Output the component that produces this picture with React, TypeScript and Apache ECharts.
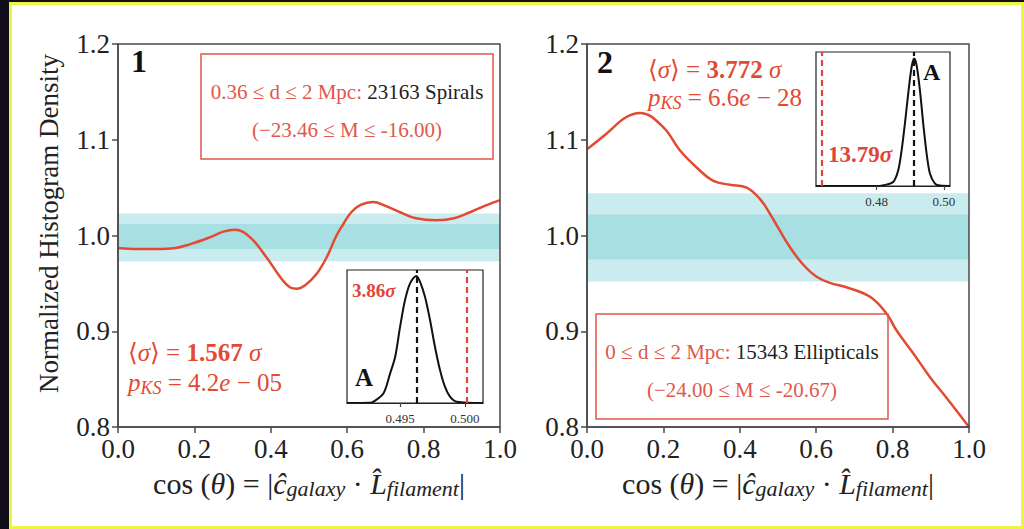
import React, { useEffect, useRef } from 'react';
import * as echarts from 'echarts';

// ---------- data ----------
const xTicks = [0, 0.2, 0.4, 0.6, 0.8, 1.0];
const yTicks = [0.8, 0.9, 1.0, 1.1, 1.2];

// panel 1 (spirals) curve
const p1X = [0, 0.05, 0.10, 0.15, 0.19, 0.24, 0.276, 0.306, 0.346, 0.389, 0.424, 0.450, 0.468, 0.49, 0.52, 0.546, 0.572, 0.59, 0.61, 0.635, 0.668, 0.70, 0.74, 0.78, 0.834, 0.88, 0.92, 0.96, 1.00];
const p1Y = [0.987, 0.986, 0.986, 0.987, 0.991, 0.998, 1.004, 1.006, 0.998, 0.977, 0.957, 0.946, 0.9445, 0.948, 0.960, 0.977, 1.000, 1.012, 1.024, 1.032, 1.035, 1.031, 1.024, 1.018, 1.016, 1.018, 1.024, 1.031, 1.037];
// panel 2 (ellipticals) curve
const p2X = [0, 0.05, 0.10, 0.139, 0.2, 0.243, 0.287, 0.331, 0.374, 0.418, 0.453, 0.479, 0.505, 0.531, 0.565, 0.601, 0.64, 0.679, 0.741, 0.785, 0.81, 0.854, 0.898, 0.942, 1.0];
const p2Y = [1.090, 1.106, 1.123, 1.128, 1.113, 1.089, 1.071, 1.057, 1.053, 1.050, 1.038, 1.0226, 1.005, 0.988, 0.970, 0.957, 0.950, 0.946, 0.936, 0.918, 0.901, 0.877, 0.852, 0.830, 0.800];

// random-alignment bands [low, high]
const p1Outer = [0.973, 1.023];
const p1Inner = [0.986, 1.012];
const p2Outer = [0.952, 1.044];
const p2Inner = [0.975, 1.022];

// inset A of panel 1
const in1Range = [0.4909, 0.5014];
const in1Ticks = [0.495, 0.5];
const in1X = [0.4909, 0.4927, 0.49295, 0.49372, 0.49423, 0.49462, 0.495, 0.49538, 0.49577, 0.49625, 0.49654, 0.49692, 0.49731, 0.49769, 0.49808, 0.49846, 0.49885, 0.49936, 0.5014];
const in1Y = [0, 0.002, 0.01, 0.073, 0.223, 0.348, 0.574, 0.774, 0.900, 0.955, 0.911, 0.798, 0.624, 0.423, 0.248, 0.123, 0.048, 0.01, 0];
const in1Mean = 0.49625;
const in1Obs = 0.50015;

// inset A of panel 2
const in2Range = [0.462, 0.5018];
const in2Ticks = [0.48, 0.5];
const in2X = [0.462, 0.481, 0.48196, 0.48493, 0.48642, 0.48743, 0.48841, 0.48939, 0.4904, 0.49117, 0.49189, 0.49287, 0.49385, 0.49486, 0.49584, 0.49733, 0.49881, 0.5018];
const in2Y = [0, 0, 0.005, 0.03, 0.117, 0.266, 0.466, 0.690, 0.888, 0.951, 0.900, 0.714, 0.466, 0.242, 0.093, 0.018, 0.003, 0];
const in2Mean = 0.49117;
const in2Obs = 0.46383;

// ---------- styles ----------
const FONT = '"Liberation Serif", "DejaVu Serif", serif';
const RED = '#e24a33';
const BOXRED = '#e2574c';
const AXC = '#4a4a4a';
const LIGHT = '#cbecef';
const DARK = '#a8dfe3';

const zip = (xs: number[], ys: number[]) => xs.map((x, i) => [x, ys[i]]);

const xName = '{n|cos (}{i|θ}{n|) = |}{i|ĉ}{s|galaxy}{n| · }{i|L̂}{s|filament}{n||}';
const xNameRich = {
  n: { fontFamily: FONT, fontSize: 30, color: '#222', lineHeight: 32 },
  i: { fontFamily: FONT, fontSize: 30, fontStyle: 'italic', color: '#222', lineHeight: 32 },
  s: { fontFamily: FONT, fontSize: 22, fontStyle: 'italic', color: '#222', lineHeight: 18, verticalAlign: 'bottom' },
};

function mainX(grid: number) {
  return {
    gridIndex: grid, type: 'value', min: 0, max: 1, interval: 0.2, z: 5,
    axisLine: { show: true, onZero: false, lineStyle: { color: AXC, width: 1.5 } },
    axisTick: { show: true, inside: false, length: 6, lineStyle: { color: AXC, width: 1.5 }, customValues: xTicks },
    axisLabel: { fontFamily: FONT, fontSize: 27, color: '#222', margin: 8, customValues: xTicks, formatter: (v: number) => v.toFixed(1) },
    splitLine: { show: false },
    name: xName, nameLocation: 'middle', nameGap: 40,
    nameTextStyle: { rich: xNameRich },
  };
}
function mainY(grid: number, withName: boolean) {
  return {
    gridIndex: grid, type: 'value', min: 0.8, max: 1.2, interval: 0.1, z: 5,
    axisLine: { show: true, onZero: false, lineStyle: { color: AXC, width: 1.5 } },
    axisTick: { show: true, inside: false, length: 6, lineStyle: { color: AXC, width: 1.5 }, customValues: yTicks },
    axisLabel: { fontFamily: FONT, fontSize: 27, color: '#222', margin: 8, customValues: yTicks, formatter: (v: number) => v.toFixed(1) },
    splitLine: { show: false },
    name: withName ? 'Normalized Histogram Density' : '',
    nameLocation: 'middle', nameGap: 56,
    nameTextStyle: { fontFamily: FONT, fontSize: 27, color: '#222', padding: [0, 0, 0, 24] },
  };
}
function insetX(grid: number, range: number[], ticks: number[], digits: number) {
  return {
    gridIndex: grid, type: 'value', min: range[0], max: range[1], z: 10,
    axisLine: { show: true, onZero: false, lineStyle: { color: '#222', width: 1.2 } },
    axisTick: { show: true, inside: false, length: 4, customValues: ticks, lineStyle: { color: '#444', width: 1.2 } },
    axisLabel: { fontFamily: FONT, fontSize: 13, color: '#333', margin: 9, customValues: ticks, formatter: (v: number) => v.toFixed(digits) },
    splitLine: { show: false },
  };
}
function insetY(grid: number) {
  return { gridIndex: grid, type: 'value', min: 0, max: 1, show: false };
}
function bandSeries(xi: number, outer: number[], inner: number[]) {
  return {
    type: 'line', xAxisIndex: xi, yAxisIndex: xi, data: [], z: 1, silent: true,
    markArea: {
      silent: true,
      data: [
        [{ yAxis: outer[0], itemStyle: { color: LIGHT } }, { yAxis: outer[1] }],
        [{ yAxis: inner[0], itemStyle: { color: DARK } }, { yAxis: inner[1] }],
      ],
    },
  };
}
function insetSeries(xi: number, xs: number[], ys: number[], mean: number, obs: number) {
  return {
    type: 'line', xAxisIndex: xi, yAxisIndex: xi, data: zip(xs, ys), z: 6,
    smooth: 0.3, showSymbol: false, clip: true,
    lineStyle: { color: '#111', width: 2 },
    markLine: {
      silent: true, symbol: ['none', 'none'], label: { show: false }, z: 7, precision: 6,
      data: [
        { xAxis: mean, lineStyle: { color: '#111', type: [6, 4], width: 2.2 } },
        { xAxis: obs, lineStyle: { color: '#e0453a', type: [6, 4], width: 2.2 } },
      ],
    },
  };
}

const statRich = (size: number) => ({
  n: { fontFamily: FONT, fontSize: size, fill: RED, lineHeight: size + 4 },
  i: { fontFamily: FONT, fontSize: size, fontStyle: 'italic', fill: RED, lineHeight: size + 4 },
  b: { fontFamily: FONT, fontSize: size, fontWeight: 'bold', fill: RED, lineHeight: size + 4 },
  s: { fontFamily: FONT, fontSize: Math.round(size * 0.7), fontStyle: 'italic', fill: RED, lineHeight: Math.round(size * 0.7), verticalAlign: 'bottom' },
});
const boxRich = {
  r: { fontFamily: FONT, fontSize: 21, fill: BOXRED },
  k: { fontFamily: FONT, fontSize: 21, fill: '#222' },
};
const sigRich = (size: number) => ({
  b: { fontFamily: FONT, fontSize: size, fontWeight: 'bold', fill: '#e0453a' },
  i: { fontFamily: FONT, fontSize: size, fontWeight: 'bold', fontStyle: 'italic', fill: '#e0453a' },
});

function text(x: number, y: number, t: string, extra: any) {
  return {
    type: 'text', x, y, z: 100, silent: true,
    style: { text: t, fontFamily: FONT, align: 'left', verticalAlign: 'middle', ...extra },
  };
}

export default function App() {
  const ref = useRef<HTMLDivElement>(null);
  useEffect(() => {
    const chart = echarts.init(ref.current!, null, { renderer: 'svg' });
    const option: any = {
      animation: false,
      grid: [
        { left: 118, top: 44, width: 382, height: 383, outerBoundsMode: 'none', containLabel: false },
        { left: 587, top: 44, width: 382, height: 383, outerBoundsMode: 'none', containLabel: false },
        { left: 347, top: 270, width: 136, height: 133, show: true, borderColor: '#222', borderWidth: 1.2, backgroundColor: '#fff', outerBoundsMode: 'none', containLabel: false },
        { left: 816, top: 52, width: 134, height: 134, show: true, borderColor: '#222', borderWidth: 1.2, backgroundColor: '#fff', outerBoundsMode: 'none', containLabel: false },
      ],
      xAxis: [mainX(0), mainX(1), insetX(2, in1Range, in1Ticks, 3), insetX(3, in2Range, in2Ticks, 2)],
      yAxis: [mainY(0, true), mainY(1, false), insetY(2), insetY(3)],
      series: [
        bandSeries(0, p1Outer, p1Inner),
        bandSeries(1, p2Outer, p2Inner),
        {
          type: 'line', xAxisIndex: 0, yAxisIndex: 0, data: zip(p1X, p1Y), z: 3,
          smooth: 0.4, showSymbol: false, clip: true, lineStyle: { color: RED, width: 2.5 },
        },
        {
          type: 'line', xAxisIndex: 1, yAxisIndex: 1, data: zip(p2X, p2Y), z: 3,
          smooth: 0.4, showSymbol: false, clip: true, lineStyle: { color: RED, width: 2.5 },
        },
        insetSeries(2, in1X, in1Y, in1Mean, in1Obs),
        insetSeries(3, in2X, in2Y, in2Mean, in2Obs),
      ],
      graphic: [
        { type: 'rect', z: 50, silent: true, shape: { x: 118, y: 44, width: 382, height: 383 }, style: { fill: 'none', stroke: AXC, lineWidth: 1.5 } },
        { type: 'rect', z: 50, silent: true, shape: { x: 587, y: 44, width: 382, height: 383 }, style: { fill: 'none', stroke: AXC, lineWidth: 1.5 } },
        { type: 'rect', z: 60, silent: true, shape: { x: 201, y: 54, width: 292, height: 105 }, style: { fill: 'none', stroke: BOXRED, lineWidth: 1.5 } },
        { type: 'rect', z: 60, silent: true, shape: { x: 596, y: 314, width: 292, height: 105 }, style: { fill: 'none', stroke: BOXRED, lineWidth: 1.5 } },
        text(347, 92, '{r|0.36 ≤ d ≤ 2 Mpc: }{k|23163 Spirals}', { align: 'center', rich: boxRich }),
        text(347, 130, '{r|(−23.46 ≤ M ≤ -16.00)}', { align: 'center', rich: boxRich }),
        text(742, 352, '{r|0 ≤ d ≤ 2 Mpc: }{k|15343 Ellipticals}', { align: 'center', rich: boxRich }),
        text(742, 390, '{r|(−24.00 ≤ M ≤ -20.67)}', { align: 'center', rich: boxRich }),
        text(131, 61, '1', { fontSize: 32, fontWeight: 'bold', fill: '#111' }),
        text(597, 62, '2', { fontSize: 32, fontWeight: 'bold', fill: '#111' }),
        text(128, 352, '{n|⟨}{i|σ}{n|⟩ = }{b|1.567}{i| σ}', { rich: statRich(25) }),
        text(128, 382, '{i|p}{s|KS}{n| = 4.2}{i|e}{n| − 05}', { rich: statRich(25) }),
        text(648, 69, '{n|⟨}{i|σ}{n|⟩ = }{b|3.772}{i| σ}', { rich: statRich(25) }),
        text(648, 97, '{i|p}{s|KS}{n| = 6.6}{i|e}{n| − 28}', { rich: statRich(25) }),
        text(352, 290, '{b|3.86}{i|σ}', { rich: sigRich(19) }),
        text(355, 377, 'A', { fontSize: 25, fontWeight: 'bold', fill: '#111' }),
        text(828, 154, '{b|13.79}{i|σ}', { rich: sigRich(23) }),
        text(923, 72, 'A', { fontSize: 24, fontWeight: 'bold', fill: '#111' }),
      ],
    };
    chart.setOption(option);
    return () => chart.dispose();
  }, []);
  return (
    <div style={{ position: 'fixed', left: 0, top: 0, width: 1024, height: 529, background: '#110d1a', overflow: 'hidden' }}>
      <div style={{ position: 'absolute', left: 9, top: 2, width: 1015, height: 527, boxSizing: 'border-box', border: '3px solid #eef540', background: '#ffffff' }} />
      <div ref={ref} style={{ position: 'absolute', left: 0, top: 0, width: 1024, height: 529 }} />
    </div>
  );
}
